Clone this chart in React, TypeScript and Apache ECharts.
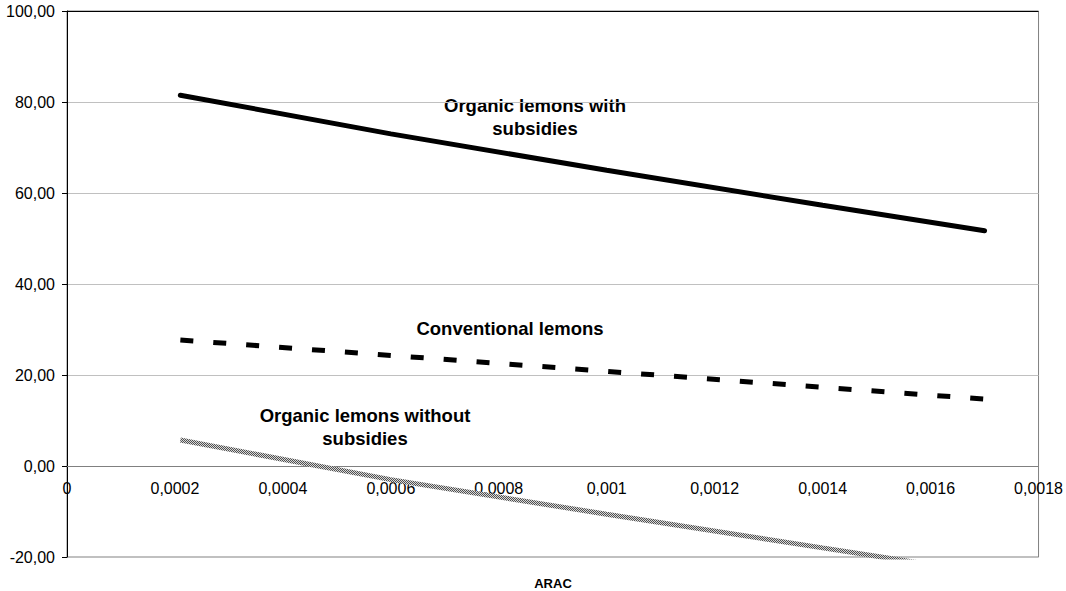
import React, { useEffect, useRef } from "react";
import * as echarts from "echarts";

const xTicks = { min: 0, max: 0.0018, interval: 0.0002 };
const yTicks = { min: -20, max: 100, interval: 20 };

const organicWithX = [0.00021, 0.0006, 0.001, 0.0014, 0.0017];
const organicWithY = [81.5, 73.0, 65.0, 57.3, 51.7];

const conventionalX = [0.00021, 0.0006, 0.001, 0.0014, 0.0017];
const conventionalY = [27.7, 24.3, 20.8, 17.3, 14.7];

const organicWithoutX = [0.00021, 0.0006, 0.001, 0.0014, 0.0017];
const organicWithoutY = [5.7, -3.0, -10.6, -18.0, -23.5];

const labels = {
  organicWith: "Organic lemons with\nsubsidies",
  conventional: "Conventional lemons",
  organicWithout: "Organic lemons without\nsubsidies",
  xName: "ARAC",
};

const FONT = "'Liberation Sans', Arial, sans-serif";

const pairs = (xs: number[], ys: number[]) => xs.map((x, i) => [x, ys[i]]);

function makeHatch() {
  const c = document.createElement("canvas");
  c.width = 4;
  c.height = 4;
  const ctx = c.getContext("2d")!;
  ctx.fillStyle = "#d8d8d8";
  ctx.fillRect(0, 0, 4, 4);
  ctx.fillStyle = "#505050";
  for (let y = 0; y < 4; y++) {
    for (let x = 0; x < 4; x++) {
      if ((x + y) % 2 === 0) ctx.fillRect(x, y, 1, 1);
    }
  }
  return c;
}

export default function App() {
  const ref = useRef<HTMLDivElement>(null);
  useEffect(() => {
    document.body.style.margin = "0";
    const chart = echarts.init(ref.current!, null, { renderer: "svg" });
    const fmtX = (v: number) => (v === 0 ? "0" : String(+v.toPrecision(6)).replace(".", ","));
    const gridTop = 11;
    const gridBottom = 34;
    const plotH = 591 - gridTop - gridBottom;
    const zeroOffset = -(plotH * (0 - yTicks.min)) / (yTicks.max - yTicks.min);
    chart.setOption({
      animation: false,
      backgroundColor: "#ffffff",
      grid: {
        left: 67,
        top: gridTop,
        right: 26,
        bottom: gridBottom,
        show: true,
        borderColor: "#808080",
        borderWidth: 1,
      },
      xAxis: {
        type: "value",
        min: xTicks.min,
        max: xTicks.max,
        interval: xTicks.interval,
        offset: zeroOffset,
        axisLine: { show: true, onZero: false, lineStyle: { color: "#808080", width: 1 } },
        axisTick: { show: false },
        minorTick: { show: false },
        minorSplitLine: { show: false },
        axisLabel: {
          color: "#000",
          fontFamily: FONT,
          fontSize: 16,
          margin: 14,
          formatter: fmtX,
        },
        splitLine: { show: false },
        splitArea: { show: false },
      },
      yAxis: {
        type: "value",
        min: yTicks.min,
        max: yTicks.max,
        interval: yTicks.interval,
        axisLine: { show: true, onZero: false, lineStyle: { color: "#000", width: 1 } },
        axisTick: { show: true, length: 5, lineStyle: { color: "#000" } },
        axisLabel: {
          color: "#000",
          fontFamily: FONT,
          fontSize: 16,
          margin: 12,
          formatter: (v: number) => v.toFixed(2).replace(".", ","),
        },
        splitLine: { show: true, lineStyle: { color: "#c0c0c0", width: 1 } },
      },
      series: [
        {
          type: "line",
          name: "Organic lemons with subsidies",
          data: pairs(organicWithX, organicWithY),
          showSymbol: false,
          lineStyle: { color: "#000", width: 5, cap: "round" },
          markLine: {
            silent: true,
            symbol: "none",
            label: { show: false },
            lineStyle: { color: "#000", type: "solid", width: 1 },
            data: [{ yAxis: yTicks.max }],
          },
        },
        {
          type: "line",
          name: "Conventional lemons",
          data: pairs(conventionalX, conventionalY),
          showSymbol: false,
          lineStyle: { color: "#000", width: 5, type: [13, 20], cap: "butt" },
        },
        {
          type: "line",
          name: "Organic lemons without subsidies",
          data: pairs(organicWithoutX, organicWithoutY),
          showSymbol: false,
          clip: true,
          lineStyle: { color: { image: makeHatch(), repeat: "repeat" }, width: 5 },
        },
      ],
      graphic: [
        {
          type: "text",
          style: {
            x: 535,
            y: 117,
            text: labels.organicWith,
            textAlign: "center",
            textVerticalAlign: "middle",
            font: `bold 18.5px ${FONT}`,
            lineHeight: 23,
            fill: "#000",
          },
        },
        {
          type: "text",
          style: {
            x: 510,
            y: 328,
            text: labels.conventional,
            textAlign: "center",
            textVerticalAlign: "middle",
            font: `bold 18.5px ${FONT}`,
            fill: "#000",
          },
        },
        {
          type: "text",
          style: {
            x: 365,
            y: 427,
            text: labels.organicWithout,
            textAlign: "center",
            textVerticalAlign: "middle",
            font: `bold 18.5px ${FONT}`,
            lineHeight: 23,
            fill: "#000",
          },
        },
        {
          type: "text",
          style: {
            x: 553,
            y: 583,
            text: labels.xName,
            textAlign: "center",
            textVerticalAlign: "middle",
            font: `bold 13px ${FONT}`,
            fill: "#000",
          },
        },
      ],
    });
    return () => chart.dispose();
  }, []);
  return <div ref={ref} style={{ width: 1066, height: 591 }} />;
}
